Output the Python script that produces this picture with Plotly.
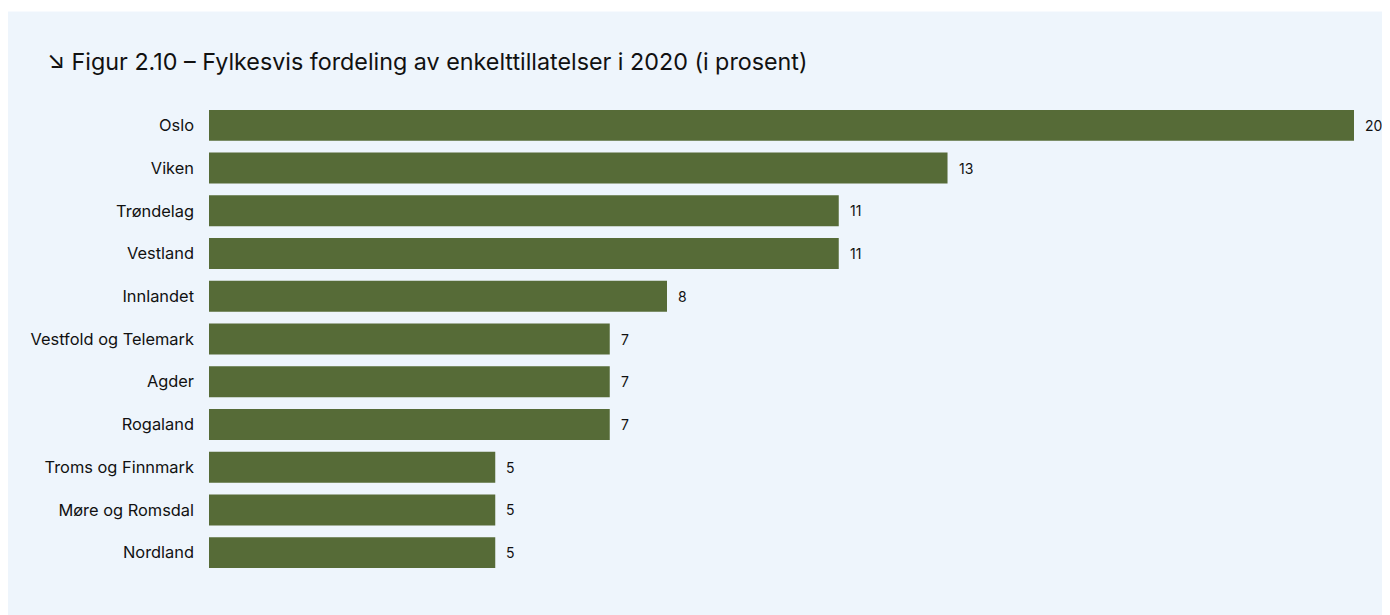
import plotly.graph_objects as go

categories = ["Oslo", "Viken", "Trøndelag", "Vestland", "Innlandet",
              "Vestfold og Telemark", "Agder", "Rogaland",
              "Troms og Finnmark", "Møre og Romsdal", "Nordland"]
values = [20, 12.9, 11, 11, 8, 7, 7, 7, 5, 5, 5]
value_labels = ["20", "13", "11", "11", "8", "7", "7", "7", "5", "5", "5"]
title_text = "↘ Figur 2.10 – Fylkesvis fordeling av enkelttillatelser i 2020 (i prosent)"

W, H = 1382, 607
ML, MR, MT, MB = 201, 36, 95.6, 40.6
PH = H - MT - MB
BG = "#eef5fc"
BAR = "#566b37"
FONT = "Inter, Roboto, sans-serif"

fig = go.Figure()
fig.add_trace(go.Bar(
    x=values, y=categories, orientation="h",
    marker=dict(color=BAR, line=dict(width=0)),
    hoverinfo="skip",
))

for v, c, t in zip(values, categories, value_labels):
    fig.add_annotation(x=v, y=c, text=t, showarrow=False, xanchor="left",
                       xshift=9, font=dict(family=FONT, size=14, color="#111111"))

# thin white strip at the very top (above the light-blue panel)
fig.add_shape(type="rect", xref="paper", yref="paper",
              x0=-1, x1=2, y0=1 + (MT - 3) / PH, y1=1 + (MT + 5) / PH,
              fillcolor="white", line=dict(width=0), layer="below")

fig.update_layout(
    width=W, height=H,
    paper_bgcolor=BG, plot_bgcolor=BG,
    margin=dict(l=ML, r=MR, t=MT, b=MB),
    bargap=0.276,
    showlegend=False,
    font=dict(family=FONT, color="#111111"),
    title=dict(text=title_text, x=39 / W, xanchor="left", xref="container",
               y=1 - 54 / H, yanchor="middle", yref="container",
               font=dict(family=FONT, size=23.3, color="#111111")),
    xaxis=dict(range=[0, 20], visible=False, fixedrange=True),
    yaxis=dict(autorange="reversed", showgrid=False, zeroline=False, showline=False,
               ticks="", ticklabelstandoff=14,
               tickfont=dict(family=FONT, size=16.4, color="#111111")),
)

fig.write_html("out.html")
